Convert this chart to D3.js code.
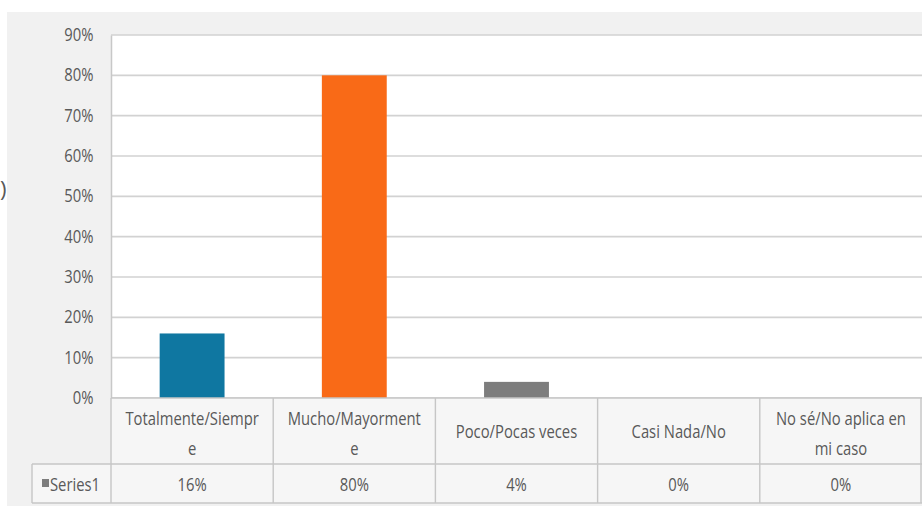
<!DOCTYPE html>
<html>
<head>
<meta charset="utf-8">
<script src="https://cdn.jsdelivr.net/npm/d3@7"></script>
<style>
  html, body { margin: 0; padding: 0; background: #ffffff; }
  svg { display: block; }
  text { font-family: "Open Sans", "Noto Sans", sans-serif; fill: #595959; }
</style>
</head>
<body>
<svg id="chart" width="922" height="506"></svg>
<script>
// Survey answers and their shares
const categories = ["Totalmente/Siempre", "Mucho/Mayormente", "Poco/Pocas veces", "Casi Nada/No", "No sé/No aplica en mi caso"];
const categoryLines = [["Totalmente/Siempr", "e"], ["Mucho/Mayorment", "e"], ["Poco/Pocas veces"], ["Casi Nada/No"], ["No sé/No aplica en", "mi caso"]];
const values = [0.16, 0.80, 0.04, 0.00, 0.00];
const valueLabels = ["16%", "80%", "4%", "0%", "0%"];
const barColors = ["#0f77a1", "#f96a17", "#7d7d7d", "#4a7ebb", "#4a7ebb"];
const yTicks = [0, 0.1, 0.2, 0.3, 0.4, 0.5, 0.6, 0.7, 0.8, 0.9];
const seriesName = "Series1";

const svg = d3.select("#chart");
const W = 922;
const FS = 18.5;      // label font size
const SX = 0.8;       // horizontal compression of the label font

const plotLeft = 111, plotRight = 922, plotTop = 35, plotBottom = 398;
const row1Bottom = 464, row2Bottom = 503, legendLeft = 32;

const x = d3.scaleBand().domain(categories).range([plotLeft, plotRight]).paddingInner(0.6).paddingOuter(0.3);
const y = d3.scaleLinear().domain([0, 0.9]).range([plotBottom, plotTop]);
const step = x.step();
const colEdges = d3.range(categories.length + 1).map(i => plotLeft + i * step);

// draws a compressed label anchored at (px, py)
function label(parent, px, py, str, anchor) {
  return parent.append("text")
    .attr("transform", `translate(${px},${py}) scale(${SX},1)`)
    .attr("text-anchor", anchor || "middle")
    .attr("font-size", FS)
    .text(str);
}

// chart background and plot area
svg.append("rect").attr("x", 7).attr("y", 12).attr("width", W - 7).attr("height", 494).attr("fill", "#f1f1f1");
svg.append("rect").attr("x", plotLeft).attr("y", plotTop).attr("width", plotRight - plotLeft).attr("height", plotBottom - plotTop).attr("fill", "#ffffff");

// gridlines
svg.append("g").selectAll("line").data(yTicks).join("line")
  .attr("x1", plotLeft).attr("x2", plotRight)
  .attr("y1", d => y(d)).attr("y2", d => y(d))
  .attr("stroke", "#d2d2d2").attr("stroke-width", 1.6);

// value axis
const yAxis = d3.axisLeft(y).tickValues(yTicks).tickFormat(d3.format(".0%")).tickSize(0).tickPadding(22);
const yg = svg.append("g").attr("transform", `translate(${plotLeft},0)`).call(yAxis);
yg.select(".domain").attr("stroke", "#c8c8c8").attr("stroke-width", 1.5);
yg.selectAll("text")
  .attr("font-size", FS).attr("fill", "#595959")
  .style("font-family", "'Open Sans', sans-serif")
  .attr("dy", "0.3em")
  .attr("transform", `scale(${SX},1)`);

// bars
svg.append("g").selectAll("rect").data(categories).join("rect")
  .attr("x", d => x(d)).attr("width", x.bandwidth())
  .attr("y", (d, i) => y(values[i]))
  .attr("height", (d, i) => y(0) - y(values[i]))
  .attr("fill", (d, i) => barColors[i]);

// data table
const tbl = svg.append("g");
tbl.append("rect").attr("x", plotLeft).attr("y", plotBottom).attr("width", plotRight - plotLeft).attr("height", row1Bottom - plotBottom).attr("fill", "#f6f6f6");
tbl.append("rect").attr("x", legendLeft).attr("y", row1Bottom).attr("width", plotRight - legendLeft).attr("height", row2Bottom - row1Bottom).attr("fill", "#f6f6f6");
const lineColor = "#c6c6c6";
tbl.append("line").attr("x1", plotLeft).attr("x2", plotRight).attr("y1", plotBottom).attr("y2", plotBottom).attr("stroke", lineColor).attr("stroke-width", 1.6);
tbl.append("line").attr("x1", legendLeft).attr("x2", plotRight).attr("y1", row1Bottom).attr("y2", row1Bottom).attr("stroke", lineColor).attr("stroke-width", 1.6);
tbl.append("line").attr("x1", legendLeft).attr("x2", plotRight).attr("y1", row2Bottom).attr("y2", row2Bottom).attr("stroke", lineColor).attr("stroke-width", 1.6);
tbl.append("line").attr("x1", legendLeft).attr("x2", legendLeft).attr("y1", row1Bottom).attr("y2", row2Bottom).attr("stroke", lineColor).attr("stroke-width", 1.4);
tbl.selectAll("line.col").data(colEdges).join("line").attr("class", "col")
  .attr("x1", d => Math.min(d, W - 1)).attr("x2", d => Math.min(d, W - 1))
  .attr("y1", plotBottom).attr("y2", row2Bottom)
  .attr("stroke", lineColor).attr("stroke-width", 1.4);

// category labels
categories.forEach((d, i) => {
  const lines = categoryLines[i];
  const cx = x(d) + x.bandwidth() / 2;
  const top = lines.length === 1 ? 438 : 425;
  lines.forEach((l, j) => label(tbl, cx, top + j * 30, l));
});

// values row
categories.forEach((d, i) => label(tbl, x(d) + x.bandwidth() / 2, 491, valueLabels[i]));

// series key
tbl.append("rect").attr("x", 42).attr("y", 479).attr("width", 7).attr("height", 8).attr("fill", "#7d7d7d");
label(tbl, 50, 491, seriesName, "start");

// clipped axis title at the far left
svg.append("text").attr("x", 0).attr("y", 197).attr("font-size", 22).attr("fill", "#a0a0a0").text(")");
</script>
</body>
</html>
